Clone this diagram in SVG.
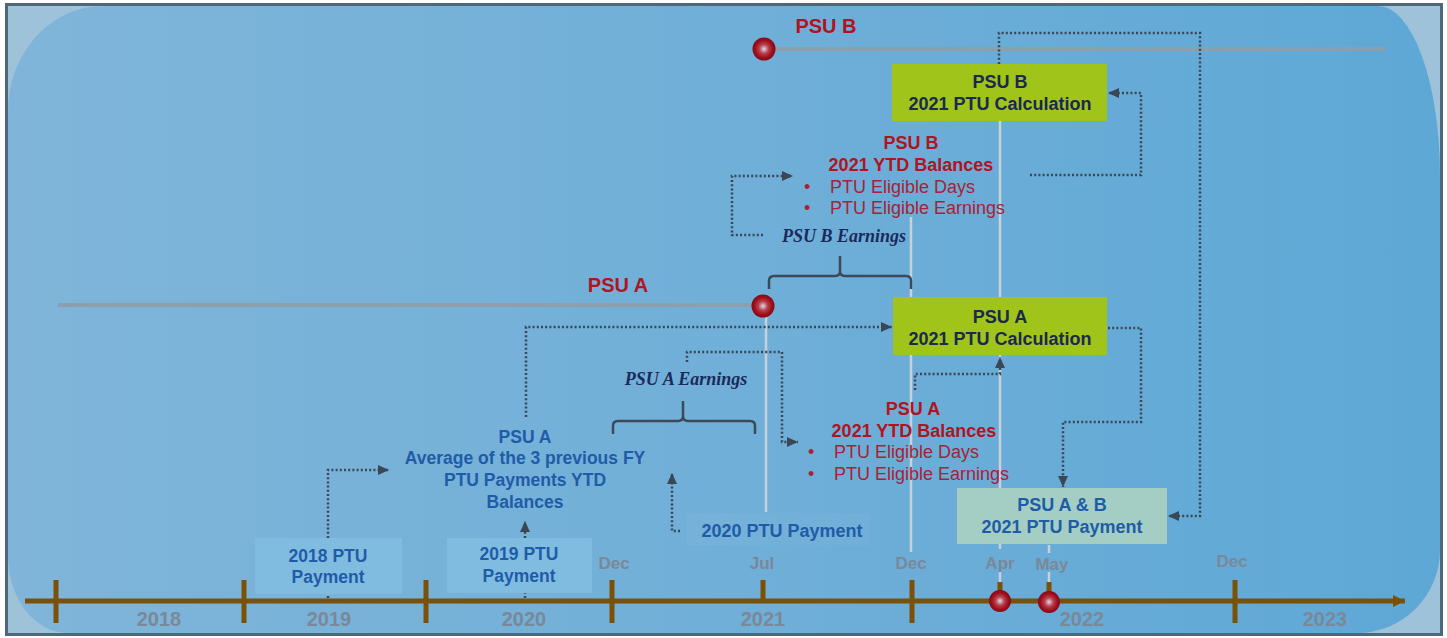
<svg xmlns="http://www.w3.org/2000/svg" width="1447" height="638" viewBox="0 0 1447 638">
<defs>
<linearGradient id="bg" x1="0" y1="0" x2="1" y2="0">
<stop offset="0" stop-color="#80b5d9"/>
<stop offset="0.5" stop-color="#70afd8"/>
<stop offset="1" stop-color="#5ea8d6"/>
</linearGradient>
<radialGradient id="dot" cx="0.5" cy="0.5" r="0.5">
<stop offset="0" stop-color="#dcdce4"/>
<stop offset="0.4" stop-color="#b84050"/>
<stop offset="0.75" stop-color="#a0101c"/>
<stop offset="1" stop-color="#860812"/>
</radialGradient>
<marker id="ah" markerUnits="userSpaceOnUse" markerWidth="11" markerHeight="10" refX="11" refY="5" orient="auto">
<path d="M0,0 L11,5 L0,10 Z" fill="#3a4756"/>
</marker>
<marker id="tl" markerUnits="userSpaceOnUse" markerWidth="12" markerHeight="12" refX="12" refY="6" orient="auto">
<path d="M0,0 L12,6 L0,12 Z" fill="#7b5108"/>
</marker>
<style>
.t{font-family:"Liberation Sans",Arial,sans-serif;font-weight:bold;text-anchor:middle}
.red{fill:#b0141e;font-size:18px}
.big{font-size:20px}
.bul{font-family:"Liberation Sans",Arial,sans-serif;fill:#a82236;font-size:18px}
.blue{fill:#1f5ca8;font-size:17.5px}
.navy{fill:#1b2850;font-size:18px}
.gray{fill:#7a8898}
.yr{font-size:20px}
.mo{font-size:17px}
.it{font-family:"Liberation Serif","Times New Roman",serif;font-weight:bold;font-style:italic;fill:#1b2a5c;font-size:18px;text-anchor:middle}
.dl{fill:none;stroke:#3a4756;stroke-width:2.5;stroke-dasharray:2 2.2;marker-end:url(#ah)}
.dn{fill:none;stroke:#3a4756;stroke-width:2.5;stroke-dasharray:2 2.2}
.vl{stroke:#c6d1da;stroke-width:2.5}
.gl{stroke:#8d9fac;stroke-width:4}
.br{fill:none;stroke:#3b4a58;stroke-width:2.5}
.tk{stroke:#7b5108;stroke-width:5}
.grn{fill:#a0c41a}
</style>
</defs>

<g id="background">
<rect x="6.5" y="4.5" width="1435" height="630" fill="#9dc2da" stroke="#4e6878" stroke-width="3"/>
<path d="M103,6 H1378 A62,170 0 0 1 1440,176 V550 A83,83 0 0 1 1357,633 H68 A60,77 0 0 1 8,556 V111 A95,105 0 0 1 103,6 Z" fill="url(#bg)"/>
</g>

<g id="guides">
<line class="vl" x1="766" y1="306" x2="766" y2="512"/>
<line class="vl" x1="911" y1="217" x2="911" y2="552"/>
<line class="vl" x1="1000" y1="121" x2="1000" y2="549"/>
<line class="vl" x1="1000" y1="572" x2="1000" y2="583"/>
<line class="vl" x1="1049" y1="545" x2="1049" y2="553"/>
<line class="vl" x1="1049" y1="572" x2="1049" y2="583"/>
<line class="gl" x1="58" y1="305" x2="755" y2="305"/>
<line class="gl" x1="770" y1="49" x2="1385" y2="49"/>
</g>

<g id="timeline">
<line x1="25" y1="601" x2="1405" y2="601" stroke="#7b5108" stroke-width="5" marker-end="url(#tl)"/>
<line class="tk" x1="56" y1="580" x2="56" y2="623"/>
<line class="tk" x1="244" y1="580" x2="244" y2="623"/>
<line class="tk" x1="426" y1="580" x2="426" y2="623"/>
<line class="tk" x1="612" y1="580" x2="612" y2="623"/>
<line class="tk" x1="912" y1="580" x2="912" y2="623"/>
<line class="tk" x1="1235" y1="580" x2="1235" y2="623"/>
<line class="tk" x1="763" y1="580" x2="763" y2="600"/>
<line class="tk" x1="1000" y1="582" x2="1000" y2="600"/>
<line class="tk" x1="1049" y1="582" x2="1049" y2="600"/>
<text class="t gray yr" x="159" y="626">2018</text>
<text class="t gray yr" x="329" y="626">2019</text>
<text class="t gray yr" x="524" y="626">2020</text>
<text class="t gray yr" x="763" y="626">2021</text>
<text class="t gray yr" x="1082" y="626">2022</text>
<text class="t gray yr" x="1325" y="626">2023</text>
<text class="t gray mo" x="614" y="569">Dec</text>
<text class="t gray mo" x="762" y="569">Jul</text>
<text class="t gray mo" x="911" y="569">Dec</text>
<text class="t gray mo" x="1000" y="569">Apr</text>
<text class="t gray mo" x="1052" y="570">May</text>
<text class="t gray mo" x="1232" y="567">Dec</text>
</g>

<g id="connectors">
<path class="dn" d="M328,598 V590"/>
<path class="dl" d="M328,538 V470 H389"/>
<path class="dn" d="M525,598 V590"/>
<path class="dl" d="M525,538 V521"/>
<path class="dl" d="M526,417 V327 H892"/>
<path class="dl" d="M680,531 H672 V473"/>
<path class="dl" d="M687,362 V352 H782 V442 H798"/>
<path class="dl" d="M915,390 V374 H1000 V357"/>
<path class="dl" d="M1108,328 H1141 V422 H1063 V487"/>
<path class="dl" d="M999,64 V33 H1200 V516 H1168"/>
<path class="dl" d="M1030,175 H1141 V93 H1108"/>
<path class="dl" d="M763,235 H732 V176 H793"/>
</g>

<g id="psu-b-line">
<circle cx="764" cy="49" r="11.5" fill="url(#dot)"/>
<text class="t big" x="826" y="33" fill="#b0141e">PSU B</text>
</g>

<g id="psu-a-line">
<circle cx="763" cy="306" r="11.5" fill="url(#dot)"/>
<text class="t big" x="618" y="292" fill="#b0141e">PSU A</text>
</g>

<g id="apr-marker"><circle cx="1000" cy="601" r="11" fill="url(#dot)"/></g>
<g id="may-marker"><circle cx="1049" cy="602" r="11" fill="url(#dot)"/></g>

<g id="psu-b-calc">
<rect class="grn" x="892" y="64" width="215" height="57"/>
<text class="t navy" x="1000" y="88">PSU B</text>
<text class="t navy" x="1000" y="110">2021 PTU Calculation</text>
</g>

<g id="psu-a-calc">
<rect class="grn" x="893" y="297" width="214" height="58"/>
<text class="t navy" x="1000" y="323">PSU A</text>
<text class="t navy" x="1000" y="345">2021 PTU Calculation</text>
</g>

<g id="psu-b-ytd">
<text class="t red" x="911" y="149">PSU B</text>
<text class="t red" x="911" y="171">2021 YTD Balances</text>
<text class="bul" x="804" y="193">•</text>
<text class="bul" x="830" y="193">PTU Eligible Days</text>
<text class="bul" x="804" y="214">•</text>
<text class="bul" x="830" y="214">PTU Eligible Earnings</text>
</g>

<g id="psu-b-earnings">
<path class="br" d="M769,289 V281 Q769,276 774,276 H835 Q840,276 840,271 V256 M840,271 Q840,276 845,276 H906 Q911,276 911,281 V289"/>
<text class="it" x="844" y="242">PSU B Earnings</text>
</g>

<g id="psu-a-ytd">
<text class="t red" x="913" y="415">PSU A</text>
<text class="t red" x="914" y="437">2021 YTD Balances</text>
<text class="bul" x="808" y="458">•</text>
<text class="bul" x="834" y="458">PTU Eligible Days</text>
<text class="bul" x="808" y="480">•</text>
<text class="bul" x="834" y="480">PTU Eligible Earnings</text>
</g>

<g id="psu-a-earnings">
<path class="br" d="M613,434 V426 Q613,421 618,421 H678 Q683,421 683,416 V401 M683,416 Q683,421 688,421 H750 Q755,421 755,426 V434"/>
<text class="it" x="686" y="385">PSU A Earnings</text>
</g>

<g id="psu-a-average">
<text class="t blue" x="525" y="443">PSU A</text>
<text class="t blue" x="525" y="464">Average of the 3 previous FY</text>
<text class="t blue" x="525" y="486">PTU Payments YTD</text>
<text class="t blue" x="525" y="508">Balances</text>
</g>

<g id="ptu-2018">
<rect x="255" y="538" width="147" height="56" fill="#80bce0"/>
<text class="t blue" x="328" y="562">2018 PTU</text>
<text class="t blue" x="328" y="583">Payment</text>
</g>

<g id="ptu-2019">
<rect x="447" y="538" width="145" height="55" fill="#80bce0"/>
<text class="t blue" x="519" y="560">2019 PTU</text>
<text class="t blue" x="519" y="582">Payment</text>
</g>

<g id="ptu-2020">
<rect x="687" y="513" width="183" height="32" fill="#ffffff" fill-opacity="0.035"/>
<text class="t blue" x="782" y="537" style="font-size:18px">2020 PTU Payment</text>
</g>

<g id="ptu-2021-payment">
<rect x="957" y="488" width="210" height="56" fill="#a4cec4"/>
<text class="t blue" x="1062" y="511" style="font-size:18px">PSU A &amp; B</text>
<text class="t blue" x="1062" y="533" style="font-size:18px">2021 PTU Payment</text>
</g>
</svg>
